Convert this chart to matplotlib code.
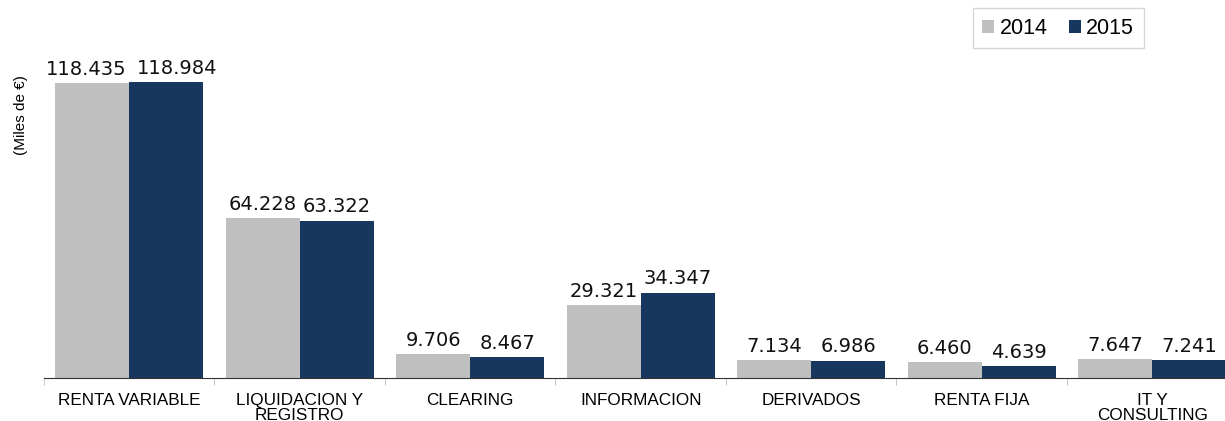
import numpy as np
import matplotlib.pyplot as plt
from matplotlib.ticker import FixedLocator

# datos (miles de euros)
categorias = ['RENTA VARIABLE', 'LIQUIDACION Y\nREGISTRO', 'CLEARING', 'INFORMACION',
              'DERIVADOS', 'RENTA FIJA', 'IT Y\nCONSULTING']
v2014 = [118435, 64228, 9706, 29321, 7134, 6460, 7647]
v2015 = [118984, 63322, 8467, 34347, 6986, 4639, 7241]

c2014 = '#BFBFBF'
c2015 = '#17375E'


def fmt(v):
    return '{:,}'.format(v).replace(',', '.')


fig = plt.figure(figsize=(12.25, 4.21), dpi=100)
ax = fig.add_axes([0.0359, 0.1021, 0.9743, 0.768])

x = np.arange(len(categorias))
w = 0.434
h14 = np.array(v2014) / 1000
h15 = np.array(v2015) / 1000
b1 = ax.bar(x - w / 2, h14, w, color=c2014, label='2014')
b2 = ax.bar(x + w / 2, h15, w, color=c2015, label='2015')

#etiquetas de valores (el primer par se separa para que no se monten)
for bars, vals, dx in [(b1, v2014, -4), (b2, v2015, 8)]:
    for i, (r, v) in enumerate(zip(bars, vals)):
        off = dx if i == 0 else 0
        ax.annotate(fmt(v), (r.get_x() + r.get_width() / 2, r.get_height()),
                    xytext=(off, 3), textcoords='offset points', ha='center', va='bottom',
                    fontsize=14, family='DejaVu Sans', color='#111111')

ax.set_xlim(-0.5, len(categorias) - 0.5)
ax.set_ylim(0, 130)
ax.set_yticks([])
for s in ['top', 'right', 'left']:
    ax.spines[s].set_visible(False)
ax.spines['bottom'].set_color('#333333')

ax.set_xticks(x)
ax.set_xticklabels(categorias, fontsize=12.3, family='Liberation Sans', linespacing=0.95)
ax.tick_params(axis='x', which='major', length=0, pad=11)
ax.xaxis.set_minor_locator(FixedLocator(np.arange(len(categorias) + 1) - 0.5))
ax.tick_params(axis='x', which='minor', length=5, color='#BBBBBB')

fig.text(0.0175, 0.727, '(Miles de €)', rotation=90, fontsize=11,
         family='Liberation Sans', ha='center', va='center')

leg = fig.legend(loc='upper left', bbox_to_anchor=(0.794, 0.981), ncol=2,
                 prop={'family': 'Liberation Sans', 'size': 15.5}, fancybox=False,
                 edgecolor='#CCCCCC', handlelength=0.55, handleheight=0.55,
                 handletextpad=0.25, columnspacing=1.0, borderpad=0.45,
                 borderaxespad=0)
leg.get_frame().set_linewidth(1)

plt.savefig('out.png', dpi=100)
